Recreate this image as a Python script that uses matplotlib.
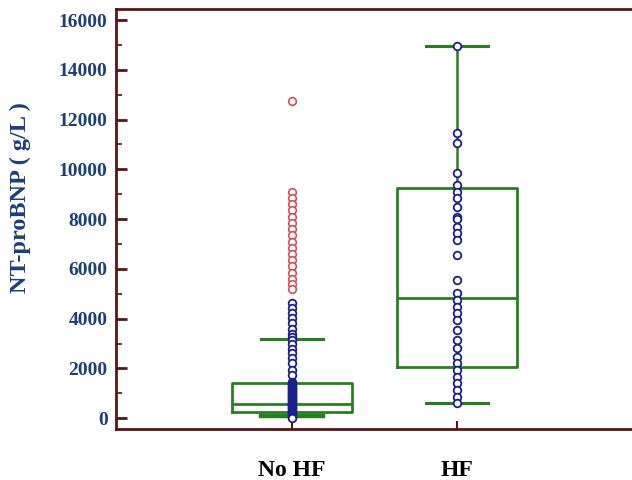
import matplotlib.pyplot as plt
from matplotlib.ticker import MultipleLocator

# groups
groups = ['No HF', 'HF']

# box statistics (NT-proBNP, g/L)
whislo = [100, 600]
q1 = [240, 2050]
med = [560, 4820]
q3 = [1400, 9250]
whishi = [3200, 14950]

# individual points, No HF (blue = within range, red = high outliers)
nohf_blue = [4610, 4410, 4210, 4010, 3810, 3600, 3400, 3270, 3140, 3000,
             2800, 2600, 2400, 2200, 1930, 1730, 1460,
             1420, 1380, 1330, 1290, 1250, 1210, 1170, 1130, 1090, 1050,
             1010, 970, 930, 890, 850, 810, 770, 730, 690, 650, 610, 570,
             530, 490, 450, 410, 370, 330, 290, 250, 210, 170, 130, 90, 50, 20]
nohf_red = [12750, 9100, 8850, 8600, 8350, 8100, 7850, 7600, 7350, 7100,
            6850, 6600, 6350, 6100, 5850, 5600, 5400, 5200]

# individual points, HF
hf_blue = [14950, 11460, 11050, 9850, 9370, 9090, 8840, 8480, 8080, 8000,
           7680, 7440, 7160, 6550, 5550, 5020, 4740, 4460, 4220, 3940,
           3540, 3140, 2810, 2450, 2210, 1930, 1650, 1410, 1130, 840, 600]

green = '#2b7d22'
navy = '#1a1f8a'
red = '#d0505a'
spine = '#5a1414'
lblue = '#1c3f78'

fig = plt.figure(figsize=(6.32, 4.8), dpi=100)
ax = fig.add_axes([0.1835, 0.106, 0.8165, 0.875])

stats = []
for i in range(len(groups)):
    stats.append({'whislo': whislo[i], 'q1': q1[i], 'med': med[i],
                  'q3': q3[i], 'whishi': whishi[i], 'label': groups[i]})

pos = [1, 2]
bp = ax.bxp(stats, positions=pos, widths=0.73, showfliers=False,
            capwidths=0.38,
            boxprops=dict(color=green, linewidth=2),
            medianprops=dict(color=green, linewidth=2),
            whiskerprops=dict(color=green, linewidth=1.8),
            capprops=dict(color=green, linewidth=2.2))
bp['caps'][0].set_linewidth(3.2)

ax.plot([pos[0]] * len(nohf_blue), nohf_blue, 'o', ms=5.5, mfc='white',
        mec=navy, mew=1.3, zorder=3)
ax.plot([pos[0]] * len(nohf_red), nohf_red, 'o', ms=5.5, mfc='white',
        mec=red, mew=1.2, zorder=3)
ax.plot([pos[1]] * len(hf_blue), hf_blue, 'o', ms=5.5, mfc='white',
        mec=navy, mew=1.3, zorder=3)

ax.set_xlim(-0.067, 3.06)
ax.set_ylim(-440, 16440)
ax.set_xticks(pos)
ax.set_xticklabels(groups, fontsize=17, fontweight='bold',
                   family='Liberation Serif', color='black')
ax.yaxis.set_major_locator(MultipleLocator(2000))
ax.yaxis.set_minor_locator(MultipleLocator(1000))
for t in ax.get_yticklabels():
    t.set_fontsize(14)
    t.set_fontweight('bold')
    t.set_family('Liberation Serif')
    t.set_color(lblue)

ax.tick_params(axis='y', which='major', direction='in', length=8, width=2,
               color=spine, pad=6)
ax.tick_params(axis='y', which='minor', direction='in', length=4, width=1.2,
               color=spine)
ax.tick_params(axis='x', direction='in', length=6, width=1.5, color=spine,
               pad=22)

ax.set_ylabel('NT-proBNP ( g/L )', fontsize=17.5, fontweight='bold',
              family='Liberation Serif', color=lblue)
ax.yaxis.set_label_coords(-0.165, 0.552)

for s in ['left', 'top', 'bottom']:
    ax.spines[s].set_color(spine)
    ax.spines[s].set_linewidth(2)
ax.spines['right'].set_visible(False)

fig.savefig('out.png', dpi=100)
